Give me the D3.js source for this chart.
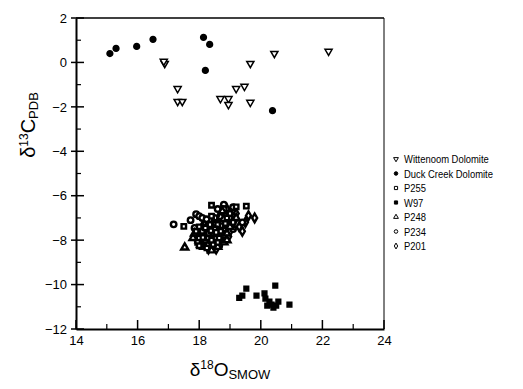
<!DOCTYPE html>
<html><head><meta charset="utf-8">
<script src="https://cdn.jsdelivr.net/npm/d3@7"></script>
<style>body{margin:0;background:#fff}svg{display:block}text{font-family:"Liberation Sans",Arial,sans-serif;fill:#000}</style>
</head><body>
<svg id="c" width="523" height="389"></svg>
<script>
const xTicks=[14,16,18,20,22,24];
const yTicks=[2,0,-2,-4,-6,-8,-10,-12];
const seriesNames=["Wittenoom Dolomite","Duck Creek Dolomite","P255","W97","P248","P234","P201"];
const wittenoom=[[16.88,-0.05],[16.85,0.05],[17.3,-1.18],[17.3,-1.76],[17.45,-1.76],[20.44,0.4],[22.2,0.5],[19.66,-0.05],[19.47,-1.08],[19.2,-1.18],[18.69,-1.63],[18.95,-1.63],[18.95,-1.9],[19.66,-1.8]];
const duckCreek=[[15.1,0.4],[15.3,0.63],[15.97,0.72],[16.5,1.04],[18.14,1.13],[18.34,0.81],[18.2,-0.36],[20.38,-2.17]];
const p255=[[17.5,-7.38],[18.4,-6.43],[18.4,-6.92],[19.2,-6.5],[19.53,-6.47],[18.6,-7.3],[18.8,-7.5],[18.3,-7.7],[18.0,-7.9],[18.9,-7.0],[19.1,-7.2],[18.5,-7.9],[18.2,-8.0],[18.7,-7.6],[17.9,-7.6],[18.5,-7.5],[19.0,-6.8],[17.95,-8.1],[18.35,-7.3],[18.3,-7.9],[18.6,-8.1],[18.1,-7.6],[18.45,-8.2],[18.75,-7.35],[18.0,-7.4],[18.25,-8.35],[18.55,-7.65],[18.0,-8.25],[18.4,-8.0],[18.65,-7.9],[18.85,-7.25],[18.2,-7.45],[18.38,-7.58],[18.12,-7.88]];
const w97=[[19.4,-10.5],[19.3,-10.6],[19.53,-10.18],[19.86,-10.5],[20.12,-10.4],[20.15,-10.63],[20.28,-10.77],[20.21,-10.95],[20.41,-11.04],[20.47,-10.05],[20.57,-10.77],[20.93,-10.9],[20.35,-10.9],[20.5,-10.95]];
const p248=[[17.53,-8.33],[18.4,-8.46],[18.1,-7.8],[18.3,-8.1],[18.6,-8.0],[18.0,-8.0],[18.8,-7.8],[19.0,-7.4],[18.5,-7.3],[18.2,-7.5],[17.8,-7.9],[18.7,-7.2],[19.2,-7.0],[18.9,-7.7],[18.4,-7.7],[18.15,-8.3],[17.85,-7.7],[18.35,-7.95],[18.05,-8.2],[18.6,-8.3],[18.25,-7.65],[18.8,-8.1],[17.95,-7.6],[18.7,-6.95],[18.75,-6.7],[18.5,-8.1],[18.9,-8.0],[18.15,-7.7],[18.45,-7.45],[18.8,-7.05],[18.55,-7.8],[18.28,-8.22]];
const p234=[[17.17,-7.29],[17.72,-7.1],[17.9,-6.83],[18.0,-6.92],[18.1,-7.0],[18.24,-7.06],[19.1,-6.52],[18.6,-6.6],[18.5,-7.0],[18.7,-6.9],[18.3,-7.3],[18.9,-7.3],[19.4,-7.2],[18.0,-7.7],[18.6,-7.7],[18.2,-8.2],[19.1,-7.5],[18.8,-6.4],[17.85,-7.45],[18.45,-7.75],[18.15,-7.95],[18.7,-7.45],[18.35,-8.15],[17.95,-8.0],[18.55,-7.25],[18.8,-6.85],[18.65,-8.25],[18.3,-7.55],[18.6,-7.95],[17.9,-7.85],[18.75,-7.75],[18.8,-6.6],[18.48,-8.05],[18.22,-7.72]];
const p201=[[19.8,-7.0],[19.5,-7.2],[19.3,-7.4],[19.0,-7.6],[18.8,-7.1],[19.6,-6.9],[19.2,-6.8],[18.6,-7.4],[19.4,-7.6],[18.4,-7.6],[18.9,-6.6],[19.0,-7.0],[18.1,-7.4],[18.75,-7.9],[18.5,-7.85],[18.25,-7.8],[18.85,-7.55],[18.3,-8.4],[18.05,-7.75],[19.15,-7.1],[18.7,-7.1],[18.4,-7.35],[18.1,-8.1],[18.55,-8.4],[18.95,-7.85],[18.2,-7.25],[18.42,-7.88],[18.65,-7.55]];

const svg=d3.select("#c");
const L=76,R=384,T=18,B=329;
const x=d3.scaleLinear().domain([14,24]).range([L,R]);
const y=d3.scaleLinear().domain([-12,2]).range([B,T]);

svg.append("line").attr("x1",L).attr("x2",R).attr("y1",T).attr("y2",T).attr("stroke","#000").attr("stroke-width",1.6);
svg.append("line").attr("x1",R).attr("x2",R).attr("y1",T).attr("y2",B).attr("stroke","#000").attr("stroke-width",1);

const xMinor=d3.range(15,24,2);
const yMinor=d3.range(-11,2,2);
const gx=svg.append("g").attr("transform",`translate(0,${B})`);
gx.call(d3.axisBottom(x).tickValues(xTicks).tickSize(0).tickPadding(7).tickFormat(d3.format("d")));
gx.select(".domain").attr("stroke-width",2);
gx.selectAll(".tick text").attr("font-size",13);
gx.selectAll(".tk").data(xTicks).join("line").attr("x1",d=>x(d)).attr("x2",d=>x(d)).attr("y1",0).attr("y2",-9).attr("stroke","#000").attr("stroke-width",1.5);
gx.selectAll(".mk").data(xMinor).join("line").attr("x1",d=>x(d)).attr("x2",d=>x(d)).attr("y1",0).attr("y2",-5).attr("stroke","#000").attr("stroke-width",1.2);

const gy=svg.append("g").attr("transform",`translate(${L},0)`);
gy.call(d3.axisLeft(y).tickValues(yTicks).tickSize(0).tickPadding(9).tickFormat(d=>d<0?"\u2212"+Math.abs(d):d));
gy.select(".domain").attr("stroke-width",2);
gy.selectAll(".tick text").attr("font-size",13);
gy.selectAll(".tk").data(yTicks).join("line").attr("y1",d=>y(d)).attr("y2",d=>y(d)).attr("x1",-5).attr("x2",8).attr("stroke","#000").attr("stroke-width",1.5);
gy.selectAll(".mk").data(yMinor).join("line").attr("y1",d=>y(d)).attr("y2",d=>y(d)).attr("x1",0).attr("x2",5).attr("stroke","#000").attr("stroke-width",1.2);

const xt=svg.append("text").attr("x",(L+R)/2).attr("y",376).attr("text-anchor","middle").attr("font-size",19);
xt.append("tspan").text("\u03b4");
xt.append("tspan").attr("font-size",12).attr("dy",-7).text("18");
xt.append("tspan").attr("dy",7).text("O");
xt.append("tspan").attr("font-size",13).attr("dy",3).text("SMOW");
const yt=svg.append("text").attr("transform","translate(35,125) rotate(-90)").attr("text-anchor","middle").attr("font-size",20);
yt.append("tspan").text("\u03b4");
yt.append("tspan").attr("font-size",12).attr("dy",-7).text("13");
yt.append("tspan").attr("dy",7).text("C");
yt.append("tspan").attr("font-size",13).attr("dy",3).text("PDB");

const styles={
  "Wittenoom Dolomite":{type:d3.symbolTriangle,size:22,fill:"#fff",rot:180,data:wittenoom,sw:1.5},
  "Duck Creek Dolomite":{type:d3.symbolCircle,size:26,fill:"#000",rot:0,data:duckCreek,sw:1.5},
  "P255":{type:d3.symbolSquare,size:20,fill:"#fff",rot:0,data:p255,sw:2.4},
  "W97":{type:d3.symbolSquare,size:22,fill:"#000",rot:0,data:w97,sw:1.5},
  "P248":{type:d3.symbolTriangle,size:22,fill:"#fff",rot:0,data:p248,sw:2.4},
  "P234":{type:d3.symbolCircle,size:24,fill:"#fff",rot:0,data:p234,sw:2.4},
  "P201":{type:d3.symbolDiamond,size:22,fill:"#fff",rot:0,data:p201,sw:2.4}
};
const drawOrder=["P201","P234","P248","P255","W97","Duck Creek Dolomite","Wittenoom Dolomite"];
drawOrder.forEach(n=>{
  const s=styles[n];
  svg.append("g").selectAll("path").data(s.data).join("path")
    .attr("d",d3.symbol().type(s.type).size(s.size))
    .attr("transform",d=>`translate(${x(d[0])},${y(d[1])}) rotate(${s.rot})`)
    .attr("fill",s.fill).attr("stroke","#000").attr("stroke-width",s.sw);
});

const lg=svg.append("g").attr("transform","translate(396,159)");
seriesNames.forEach((n,i)=>{
  const s=styles[n];
  const g=lg.append("g").attr("transform",`translate(0,${i*14.5})`);
  g.append("path").attr("d",d3.symbol().type(s.type).size(10)).attr("transform",`rotate(${s.rot})`)
    .attr("fill",s.fill).attr("stroke","#000").attr("stroke-width",1);
  g.append("text").attr("transform","translate(8,4) scale(0.82,1)").attr("font-size",11.5).text(n);
});
</script>
</body></html>
